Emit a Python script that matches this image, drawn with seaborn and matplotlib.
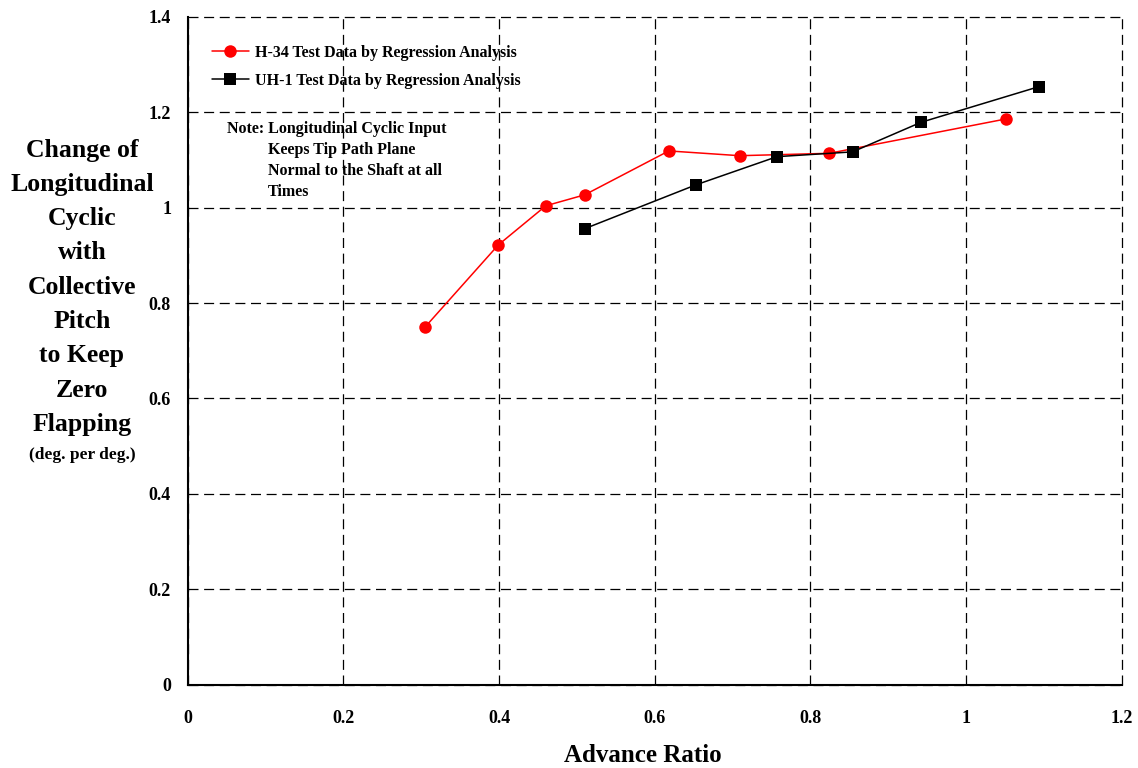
import matplotlib
matplotlib.use("Agg")
import matplotlib.pyplot as plt
import seaborn as sns
import pandas as pd

h34_x = [0.305, 0.399, 0.460, 0.510, 0.618, 0.709, 0.824, 1.051]
h34_y = [0.750, 0.922, 1.004, 1.027, 1.119, 1.109, 1.114, 1.186]
uh1_x = [0.510, 0.653, 0.757, 0.854, 0.942, 1.094]
uh1_y = [0.956, 1.048, 1.107, 1.117, 1.179, 1.254]
series_names = ["H-34 Test Data by Regression Analysis",
                "UH-1 Test Data by Regression Analysis"]
x_ticks = [0, 0.2, 0.4, 0.6, 0.8, 1, 1.2]
y_ticks = [0, 0.2, 0.4, 0.6, 0.8, 1, 1.2, 1.4]
x_ticklabels = ["0", "0.2", "0.4", "0.6", "0.8", "1", "1.2"]
y_ticklabels = ["0", "0.2", "0.4", "0.6", "0.8", "1", "1.2", "1.4"]
note_lines = ["Note: Longitudinal Cyclic Input", "Keeps Tip Path Plane",
              "Normal to the Shaft at all", "Times"]
ylabel_lines = ["Change of", "Longitudinal", "Cyclic", "with", "Collective",
                "Pitch", "to Keep", "Zero", "Flapping"]
ylabel_unit = "(deg. per deg.)"
xlabel = "Advance Ratio"

sns.set_style("white")
plt.rcParams['font.family'] = ['Liberation Serif', 'DejaVu Serif']
plt.rcParams['font.weight'] = 'bold'
plt.rcParams['text.color'] = 'black'
plt.rcParams['xtick.color'] = 'black'
plt.rcParams['ytick.color'] = 'black'
plt.rcParams['axes.labelcolor'] = 'black'

df = pd.concat([
    pd.DataFrame({"x": h34_x, "y": h34_y, "s": series_names[0]}),
    pd.DataFrame({"x": uh1_x, "y": uh1_y, "s": series_names[1]}),
])

fig = plt.figure(figsize=(11.38, 7.68), dpi=100)
ax = fig.add_axes([0.165, 0.1085, 0.8208, 0.8695])

sns.lineplot(data=df, x="x", y="y", hue="s", style="s",
             palette=["#ff0000", "#000000"], markers=["o", "s"], dashes=False,
             markersize=9, linewidth=1.1, markeredgewidth=0, sort=False,
             ax=ax, legend=True)

ax.set_xlim(0, 1.2)
ax.set_ylim(0, 1.4)
ax.set_xticks(x_ticks)
ax.set_xticklabels(x_ticklabels)
ax.set_yticks(y_ticks)
ax.set_yticklabels(y_ticklabels)
ax.tick_params(axis='both', direction='in', length=4, width=1.2, labelsize=13,
               colors='black')
ax.tick_params(axis='x', pad=18)
ax.tick_params(axis='y', pad=12)
for lab in ax.get_xticklabels() + ax.get_yticklabels():
    lab.set_fontweight('bold')
    lab.set_color('black')

ax.grid(True, color='black', linestyle=(0, (8, 4.5)), linewidth=0.9)
for gl in ax.get_xgridlines() + ax.get_ygridlines():
    gl.set_clip_on(False)
for s in ['top', 'right']:
    ax.spines[s].set_visible(False)
for s in ['left', 'bottom']:
    ax.spines[s].set_linewidth(1.5)
    ax.spines[s].set_color('black')
    ax.spines[s].set_zorder(3)

ax.set_xlabel("")
ax.set_ylabel("")
fig.text(643/1138, 1 - 755/768, xlabel, ha='center', va='center',
         fontsize=18, fontweight='bold', color='black')

y0 = 150
for i, line in enumerate(ylabel_lines):
    fig.text(82/1138, 1 - (y0 + i * 34.3) / 768, line, ha='center', va='center',
             fontsize=18.5, fontweight='bold', color='black')
fig.text(82/1138, 1 - 455/768, ylabel_unit, ha='center', va='center',
         fontsize=12.5, fontweight='bold', color='black')

leg = ax.legend(loc='upper left', bbox_to_anchor=((212 - 188) / 934, 1 - (45 - 17) / 668),
                frameon=False, fontsize=11.5, handlelength=2.3, handletextpad=0.4,
                labelspacing=0.75, borderaxespad=0, borderpad=0)
for t in leg.get_texts():
    t.set_fontweight('bold')
    t.set_color('black')

fig.text(227/1138, 1 - 129/768, note_lines[0], ha='left', va='center',
         fontsize=11.5, fontweight='bold', color='black')
for i, line in enumerate(note_lines[1:]):
    fig.text(268/1138, 1 - (150 + i * 21) / 768, line, ha='left', va='center',
             fontsize=11.5, fontweight='bold', color='black')

fig.savefig("out.png", dpi=100)
